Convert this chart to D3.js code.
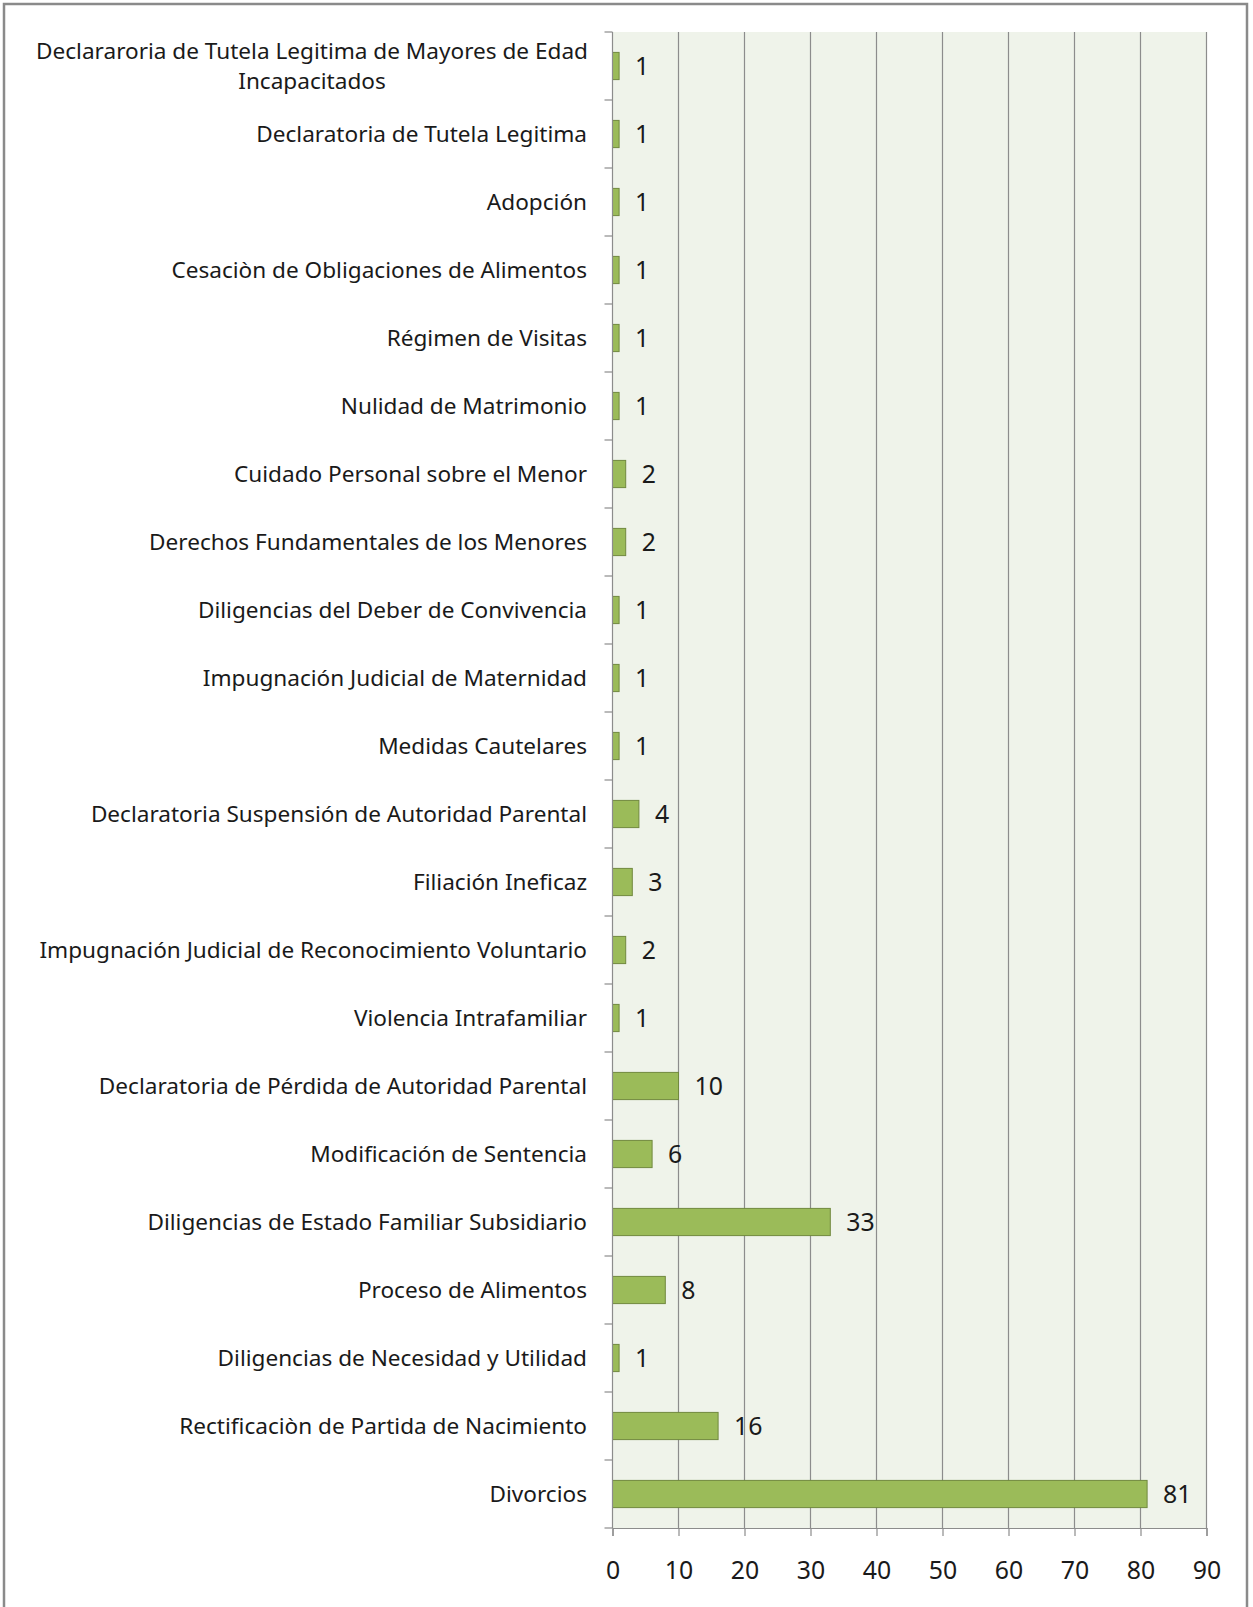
<!DOCTYPE html>
<html><head><meta charset="utf-8">
<script src="https://cdn.jsdelivr.net/npm/d3@7"></script>
<style>
html,body{margin:0;padding:0;background:#fff;}
svg text{font-family:"Noto Sans",sans-serif;fill:#1a1a1a;}
</style></head>
<body><svg id="c" width="1253" height="1607"></svg>
<script>
const categories = [
  ["Declararoria de Tutela Legitima de Mayores de Edad","Incapacitados"],
  ["Declaratoria de Tutela Legitima"],
  ["Adopción"],
  ["Cesaciòn de Obligaciones de Alimentos"],
  ["Régimen de Visitas"],
  ["Nulidad de Matrimonio"],
  ["Cuidado Personal sobre el Menor"],
  ["Derechos Fundamentales de los Menores"],
  ["Diligencias del Deber de Convivencia"],
  ["Impugnación Judicial de Maternidad"],
  ["Medidas Cautelares"],
  ["Declaratoria Suspensión de Autoridad Parental"],
  ["Filiación Ineficaz"],
  ["Impugnación Judicial de Reconocimiento Voluntario"],
  ["Violencia Intrafamiliar"],
  ["Declaratoria de Pérdida de Autoridad Parental"],
  ["Modificación de Sentencia"],
  ["Diligencias de Estado Familiar Subsidiario"],
  ["Proceso de Alimentos"],
  ["Diligencias de Necesidad y Utilidad"],
  ["Rectificaciòn de Partida de Nacimiento"],
  ["Divorcios"]
];
const values = [1,1,1,1,1,1,2,2,1,1,1,4,3,2,1,10,6,33,8,1,16,81];
const xTicks = [0,10,20,30,40,50,60,70,80,90];

const svg = d3.select("#c");
const L = 612.5, R = 1206.5, T = 32, B = 1528;

// calibrate font size so the longest label spans ~548px, as in the reference
const probe = svg.append("text").attr("font-size",20).text("Impugnación Judicial de Reconocimiento Voluntario");
const fs = Math.min(24, 20 * 548 / probe.node().getComputedTextLength());
probe.remove();
const fn = fs * 1.1;

// outer border
svg.append("rect").attr("x",4).attr("y",4).attr("width",1243).attr("height",1640)
  .attr("fill","#fff").attr("stroke","#8a8a8a").attr("stroke-width",2.5);

const x = d3.scaleLinear().domain([0,90]).range([L,R]);
const idx = categories.map((d,i)=>i);
const yb = d3.scaleBand().domain(idx).range([T,B]);

// plot background
svg.append("rect").attr("x",L).attr("y",T).attr("width",R-L).attr("height",B-T).attr("fill","#eff3ea");

// gridlines
svg.append("g").selectAll("line").data(xTicks.filter(d=>d>0)).join("line")
  .attr("x1",d=>x(d)).attr("x2",d=>x(d)).attr("y1",T).attr("y2",B)
  .attr("stroke","#8c8c8c").attr("stroke-width",1.2);

// bars
const bh = yb.bandwidth()*0.4;
svg.append("g").selectAll("rect").data(values).join("rect")
  .attr("x",x(0)).attr("y",(d,i)=>yb(i)+yb.bandwidth()/2-bh/2)
  .attr("width",d=>x(d)-x(0)).attr("height",bh)
  .attr("fill","#9bbb59").attr("stroke","#71893f").attr("stroke-width",1);

// value labels
svg.append("g").selectAll("text").data(values).join("text")
  .attr("x",d=>x(d)+16).attr("y",(d,i)=>yb(i)+yb.bandwidth()/2)
  .attr("dy","0.36em").attr("font-size",fn).text(d=>d);

// y axis: boundary ticks
const bounds = d3.range(categories.length+1).map(i=>T+i*yb.bandwidth());
svg.append("line").attr("x1",L).attr("x2",L).attr("y1",T).attr("y2",B).attr("stroke","#8c8c8c").attr("stroke-width",1.2);
svg.append("g").selectAll("line").data(bounds).join("line")
  .attr("x1",L-8).attr("x2",L).attr("y1",d=>d).attr("y2",d=>d)
  .attr("stroke","#8c8c8c").attr("stroke-width",1.2);

// category labels
const cl = svg.append("g").selectAll("text").data(categories).join("text")
  .attr("font-size",fs)
  .attr("text-anchor",d=>d.length>1?"middle":"end")
  .attr("x",d=>d.length>1?312:587)
  .attr("y",(d,i)=>yb(i)+yb.bandwidth()/2);
cl.each(function(d){
  const t = d3.select(this);
  const n = d.length, lh = 29.5;
  d.forEach((s,k)=>{
    t.append("tspan").attr("x",n>1?312:587)
      .attr("y", +t.attr("y") + (k-(n-1)/2)*lh).attr("dy","0.36em").text(s);
  });
});

// x axis
const xa = svg.append("g").attr("transform",`translate(0,${B})`)
  .call(d3.axisBottom(x).tickValues(xTicks).tickSize(8).tickPadding(25).tickFormat(d3.format("d")));
xa.select(".domain").attr("stroke","#8c8c8c").attr("stroke-width",1.2);
xa.selectAll(".tick line").attr("stroke","#8c8c8c").attr("stroke-width",1.2);
xa.selectAll("text").attr("font-size",fn).attr("fill","#1a1a1a").attr("font-family","'Noto Sans',sans-serif");
</script></body></html>
